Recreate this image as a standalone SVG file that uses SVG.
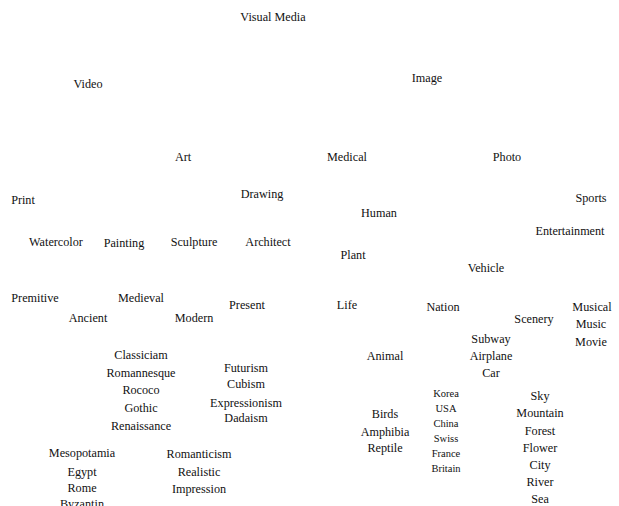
<svg xmlns="http://www.w3.org/2000/svg" width="619" height="506" viewBox="0 0 619 506">
  <style>
    text { font-family: "Liberation Serif", "Times New Roman", serif; font-size: 12.2px; fill: #111; text-anchor: middle; }
    .small { font-size: 10.5px; }
  </style>
  <rect width="619" height="506" fill="#fff"/>

  <!-- top levels -->
  <g id="visual-media"><text x="273" y="21">Visual Media</text></g>
  <g id="video"><text x="88" y="88">Video</text></g>
  <g id="image"><text x="427" y="82">Image</text></g>

  <!-- image categories -->
  <g id="art"><text x="183" y="161">Art</text></g>
  <g id="medical"><text x="347" y="161">Medical</text></g>
  <g id="photo"><text x="507" y="161">Photo</text></g>

  <!-- art branch -->
  <g id="print"><text x="23" y="204">Print</text></g>
  <g id="drawing"><text x="262" y="198">Drawing</text></g>
  <g id="watercolor"><text x="56" y="246">Watercolor</text></g>
  <g id="painting"><text x="124" y="247">Painting</text></g>
  <g id="sculpture"><text x="194" y="246">Sculpture</text></g>
  <g id="architect"><text x="268" y="246">Architect</text></g>

  <!-- periods -->
  <g id="premitive"><text x="35" y="302">Premitive</text></g>
  <g id="medieval"><text x="141" y="302">Medieval</text></g>
  <g id="present"><text x="247" y="309">Present</text></g>
  <g id="ancient"><text x="88" y="322">Ancient</text></g>
  <g id="modern"><text x="194" y="322">Modern</text></g>

  <g id="medieval-styles">
    <text x="141" y="359">Classiciam</text>
    <text x="141" y="377">Romannesque</text>
    <text x="141" y="394">Rococo</text>
    <text x="141" y="412">Gothic</text>
    <text x="141" y="430">Renaissance</text>
  </g>
  <g id="present-styles">
    <text x="246" y="372">Futurism</text>
    <text x="246" y="388">Cubism</text>
    <text x="246" y="407">Expressionism</text>
    <text x="246" y="422">Dadaism</text>
  </g>
  <g id="ancient-styles">
    <text x="82" y="457">Mesopotamia</text>
    <text x="82" y="476">Egypt</text>
    <text x="82" y="492">Rome</text>
    <text x="82" y="508">Byzantin</text>
  </g>
  <g id="modern-styles">
    <text x="199" y="458">Romanticism</text>
    <text x="199" y="476">Realistic</text>
    <text x="199" y="493">Impression</text>
  </g>

  <!-- medical branch -->
  <g id="human"><text x="379" y="217">Human</text></g>
  <g id="plant"><text x="353" y="259">Plant</text></g>
  <g id="life"><text x="347" y="309">Life</text></g>
  <g id="animal"><text x="385" y="360">Animal</text></g>
  <g id="animal-kinds">
    <text x="385" y="418">Birds</text>
    <text x="385" y="436">Amphibia</text>
    <text x="385" y="452">Reptile</text>
  </g>

  <!-- photo branch -->
  <g id="sports"><text x="591" y="202">Sports</text></g>
  <g id="entertainment"><text x="570" y="235">Entertainment</text></g>
  <g id="vehicle"><text x="486" y="272">Vehicle</text></g>
  <g id="nation"><text x="443" y="311">Nation</text></g>
  <g id="scenery"><text x="534" y="323">Scenery</text></g>
  <g id="entertainment-kinds">
    <text x="592" y="311">Musical</text>
    <text x="591" y="328">Music</text>
    <text x="591" y="346">Movie</text>
  </g>
  <g id="vehicle-kinds">
    <text x="491" y="343">Subway</text>
    <text x="491" y="360">Airplane</text>
    <text x="491" y="377">Car</text>
  </g>
  <g id="nation-kinds">
    <text class="small" x="446" y="397">Korea</text>
    <text class="small" x="446" y="412">USA</text>
    <text class="small" x="446" y="427">China</text>
    <text class="small" x="446" y="442">Swiss</text>
    <text class="small" x="446" y="457">France</text>
    <text class="small" x="446" y="472">Britain</text>
  </g>
  <g id="scenery-kinds">
    <text x="540" y="400">Sky</text>
    <text x="540" y="417">Mountain</text>
    <text x="540" y="435">Forest</text>
    <text x="540" y="452">Flower</text>
    <text x="540" y="469">City</text>
    <text x="540" y="486">River</text>
    <text x="540" y="503">Sea</text>
  </g>
</svg>
